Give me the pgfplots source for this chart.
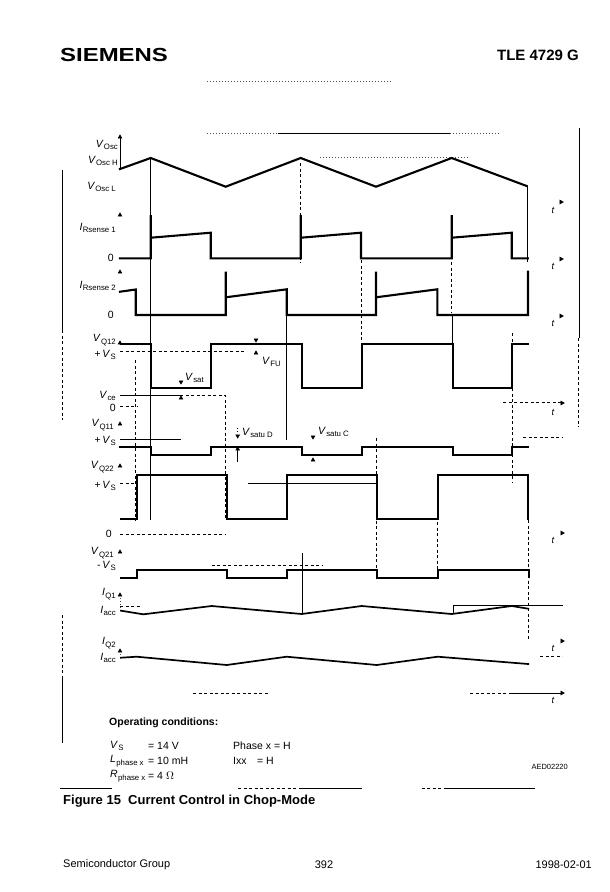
\documentclass[border=0pt]{standalone}
\usepackage{fontspec}
\setmainfont{Liberation Sans}
\usepackage{pgfplots}
\pgfplotsset{compat=1.18}
\usepackage{graphicx}
\newcommand{\sg}[2]{\textit{#1}\kern0.3pt\raisebox{-0.45ex}{\fontsize{7.8}{8}\selectfont #2}}
\begin{document}
\begin{tikzpicture}
\tikzset{wave/.style={line width=2.1pt, black, line join=miter, line cap=rect},
  thn/.style={line width=0.6pt, black},
  dsh/.style={line width=0.6pt, black, dash pattern=on 3pt off 2.5pt},
  dot/.style={line width=0.5pt, black!70, dash pattern=on 1pt off 2pt},
  lab/.style={anchor=east, font=\fontsize{10.5}{11}\selectfont, inner sep=0pt},
  ann/.style={anchor=west, font=\fontsize{10.5}{11}\selectfont, inner sep=0pt},
  tl/.style={font=\fontsize{9.5}{10}\selectfont\itshape, inner sep=0pt}}
\begin{axis}[scale only axis, width=610pt, height=892pt,
  xmin=0, xmax=610, ymin=0, ymax=892, y dir=reverse,
  hide axis, clip=false]
\path[fill=white] (axis cs:0,0) rectangle (axis cs:610,892);

% ---------- header ----------
\node[anchor=west, inner sep=0pt] at (axis cs:60,55) {\scalebox{1.33}[1.05]{\fontsize{18}{18}\selectfont\bfseries SIEMENS}};
\node[anchor=east, inner sep=0pt] at (axis cs:579,55) {\fontsize{15}{15}\selectfont\bfseries TLE 4729 G};
\addplot[dot] coordinates {(207,81) (391,81)};
\addplot[dot] coordinates {(207,133.6) (500,133.6)};
\addplot[thn] coordinates {(278,133.6) (450,133.6)};

% ---------- margins ----------
\addplot[thn] coordinates {(62,170) (62,330)};
\addplot[dsh] coordinates {(62,330) (62,420)};
\addplot[dsh] coordinates {(62,615) (62,677)};
\addplot[thn] coordinates {(62,677) (62,743)};
\addplot[thn] coordinates {(579.3,128) (579.3,338)};
\addplot[dsh] coordinates {(578,338) (578,427)};

% ---------- reference lines ----------
\addplot[thn] coordinates {(150.7,158) (150.7,520)};
\addplot[thn] coordinates {(527.5,186) (527.5,262)};
\addplot[thn] coordinates {(286.7,315) (286.7,440)};
\addplot[thn] coordinates {(452.7,315) (452.7,345)};
\addplot[thn] coordinates {(302.3,553) (302.3,614)};
\addplot[thn] coordinates {(120,395.7) (180,395.7)};
\addplot[dsh] coordinates {(180,395.7) (225.7,395.7) (225.7,520)};
\addplot[dsh] coordinates {(120,406.7) (137,406.7)};
\addplot[dsh] coordinates {(120,351.7) (246,351.7)};
\addplot[thn] coordinates {(120,439) (181,439)};
\addplot[dsh] coordinates {(523,437.7) (563,437.7)};
\addplot[dsh] coordinates {(120,483) (136,483)};
\addplot[thn] coordinates {(248,483) (377,483)};
\addplot[dsh] coordinates {(135.7,360) (135.7,520)};
\addplot[dsh] coordinates {(361.7,260) (361.7,363)};
\addplot[dsh] coordinates {(300.7,163) (300.7,263)};
\addplot[dsh] coordinates {(451.7,262) (451.7,312)};
\addplot[dsh] coordinates {(376.7,438) (376.7,570)};
\addplot[dsh] coordinates {(437.7,500) (437.7,570)};
\addplot[dsh] coordinates {(512.3,333) (512.3,483)};
\addplot[dsh] coordinates {(528.5,520) (528.5,640)};
\addplot[dot] coordinates {(320,157) (470,157)};
\addplot[dsh] coordinates {(120,534) (226,534)};
\addplot[dsh] coordinates {(211.7,565) (323,565)};
\addplot[thn] coordinates {(453,605) (563,605)};
\addplot[thn] coordinates {(453.3,605) (453.3,614)};
\addplot[dsh] coordinates {(120,606) (140,606)};
\addplot[dsh] coordinates {(540,656.7) (562,656.7)};
\addplot[dsh] coordinates {(193,693) (268,693)};
\addplot[dsh] coordinates {(470,693) (510,693)};
\addplot[thn] coordinates {(510,693) (562,693)};
\addplot[dsh] coordinates {(503,402.7) (562,402.7)};
\addplot[dot] coordinates {(120,595) (120,612)};
\addplot[dot] coordinates {(120,651) (120,660)};

% V_Osc axis
\addplot[thn] coordinates {(120,169) (120,138)};

% ---------- waveforms ----------
\addplot[wave] coordinates {(120,169) (150.7,158) (225.7,186.7) (300.7,158) (376,186.7) (451.7,158) (526.7,186)};
\addplot[wave] coordinates {(120,258.3) (150.7,258.3) (150.7,215) (150.7,237.7) (210.7,232.7) (210.7,258.3) (300.7,258.3) (300.7,215) (300.7,237.7) (361,232.7) (361,258.3) (451.7,258.3) (451.7,215) (451.7,237.7) (511.7,232.7) (511.7,258.3) (527.7,258.3)};
\addplot[wave] coordinates {(120,291.7) (135.7,289.5) (135.7,315) (225.7,315) (225.7,271.7) (225.7,297.3) (286.7,289.3) (286.7,315) (376,315) (376,271.7) (376,297.3) (437.3,289.3) (437.3,315) (528,315) (528,271.7)};
\addplot[wave] coordinates {(121,344) (150.7,344) (150.7,387.7) (211,387.7) (211,344) (301.7,344) (301.7,387.7) (361.7,387.7) (361.7,344) (452.7,344) (452.7,387.7) (512.3,387.7) (512.3,344) (527.7,344)};
\addplot[wave] coordinates {(120,446.7) (150.7,446.7) (150.7,455) (211,455) (211,446.7) (301.7,446.7) (301.7,455) (361.7,455) (361.7,446.7) (452.7,446.7) (452.7,455) (512.3,455) (512.3,446.7) (527.7,446.7)};
\addplot[wave] coordinates {(121,519.3) (136.7,519.3) (136.7,475) (226.7,475) (226.7,519.3) (286.7,519.3) (286.7,475) (376.7,475) (376.7,519.3) (437.7,519.3) (437.7,475) (528.3,475) (528.3,519.3)};
\addplot[wave] coordinates {(121,577.7) (136.7,577.7) (136.7,570) (226.7,570) (226.7,577.7) (286.7,577.7) (286.7,570) (376.7,570) (376.7,577.7) (437.7,577.7) (437.7,570) (529.3,570) (529.3,577)};
\addplot[wave, line width=1.7pt] coordinates {(121,610.7) (143.3,614.3) (211.7,606) (301.7,614) (361.7,606) (451.7,614) (511.7,606) (528.3,608.7)};
\addplot[wave, line width=1.7pt] coordinates {(121,657.7) (136.7,656.7) (226.7,665) (286.7,656.7) (376.7,665) (437.7,656.7) (528.3,664)};

% ---------- arrow heads ----------
\addplot[only marks, mark=triangle*, mark size=2.2pt] coordinates {(120,137) (120,215) (120,272) (120,343) (120,424) (120,466) (120,552) (120,595) (120,651) (181,398) (256,353) (313,460)};
\addplot[only marks, mark=triangle*, mark size=2.2pt, mark options={rotate=180}] coordinates {(181,382) (256,340) (313,437) (237.7,436)};
\addplot[only marks, mark=triangle*, mark size=2.4pt, mark options={rotate=-90}] coordinates {(561,202) (561,259) (561,316) (562,403) (562,533) (562,641) (562,693)};
\addplot[dot, black] coordinates {(237.7,428) (237.7,434)};
\addplot[thn] coordinates {(237.7,462) (237.7,450)};
\addplot[only marks, mark=triangle*, mark size=2.2pt] coordinates {(237.7,449)};

% ---------- t labels ----------
\foreach \yy in {210,266,323,412,540,648,700} {
  \edef\tmp{\noexpand\node[tl] at (axis cs:553,\yy) {t};}\tmp
}

% ---------- signal labels ----------
\node[lab] at (axis cs:118,145) {\sg{V}{Osc}};
\node[lab] at (axis cs:118,161) {\sg{V}{Osc H}};
\node[lab] at (axis cs:116,187) {\sg{V}{Osc L}};
\node[lab] at (axis cs:116,228) {\sg{I}{Rsense 1}};
\node[lab] at (axis cs:114,258) {0};
\node[lab] at (axis cs:116,286) {\sg{I}{Rsense 2}};
\node[lab] at (axis cs:114,315) {0};
\node[lab] at (axis cs:116,340) {\sg{V}{Q12}};
\node[lab] at (axis cs:116,355) {+\,\sg{V}{S}};
\node[lab] at (axis cs:116,396) {\sg{V}{ce}};
\node[lab] at (axis cs:116,408) {0};
\node[lab] at (axis cs:114,425) {\sg{V}{Q11}};
\node[lab] at (axis cs:116,441) {+\,\sg{V}{S}};
\node[lab] at (axis cs:114,467) {\sg{V}{Q22}};
\node[lab] at (axis cs:116,486) {+\,\sg{V}{S}};
\node[lab] at (axis cs:112,534) {0};
\node[lab] at (axis cs:114,553) {\sg{V}{Q21}};
\node[lab] at (axis cs:116,566) {-\,\sg{V}{S}};
\node[lab] at (axis cs:116,594) {\sg{I}{Q1}};
\node[lab] at (axis cs:116,611) {\sg{I}{acc}};
\node[lab] at (axis cs:116,643) {\sg{I}{Q2}};
\node[lab] at (axis cs:116,658) {\sg{I}{acc}};

\node[ann] at (axis cs:185,378) {\sg{V}{sat}};
\node[ann] at (axis cs:262,362) {\sg{V}{FU}};
\node[ann] at (axis cs:242,433) {\sg{V}{satu D}};
\node[ann] at (axis cs:318,432) {\sg{V}{satu C}};

% ---------- operating conditions ----------
\node[anchor=west, inner sep=0pt] at (axis cs:109,723) {\fontsize{10.5}{11}\selectfont\bfseries Operating conditions:};
\node[ann] at (axis cs:110,746) {\sg{V}{S}};
\node[ann] at (axis cs:148,746) {= 14 V};
\node[ann] at (axis cs:233,746) {Phase x = H};
\node[ann] at (axis cs:110,761) {\sg{L}{phase x}};
\node[ann] at (axis cs:148,761) {= 10 mH};
\node[ann] at (axis cs:233,761) {Ixx};
\node[ann] at (axis cs:257,761) {= H};
\node[ann] at (axis cs:110,776) {\sg{R}{phase x}};
\node[ann] at (axis cs:148,776) {= 4 $\Omega$};
\node[anchor=east, inner sep=0pt] at (axis cs:568,767) {\fontsize{7.5}{8}\selectfont AED02220};
\addplot[thn] coordinates {(60,788.3) (111.7,788.3)};
\addplot[dsh] coordinates {(238,788.3) (300,788.3)};
\addplot[thn] coordinates {(300,788.3) (361.7,788.3)};
\addplot[dsh] coordinates {(421.7,788.3) (445,788.3)};
\addplot[thn] coordinates {(445,788.3) (535,788.3)};

\node[anchor=west, inner sep=0pt] at (axis cs:63,801) {\fontsize{13}{14}\selectfont\bfseries Figure 15\ \ Current Control in Chop-Mode};

% ---------- footer ----------
\node[anchor=west, inner sep=0pt] at (axis cs:63,865) {\fontsize{11}{12}\selectfont Semiconductor Group};
\node[inner sep=0pt] at (axis cs:324,865) {\fontsize{11}{12}\selectfont 392};
\node[anchor=east, inner sep=0pt] at (axis cs:592,865) {\fontsize{11}{12}\selectfont 1998-02-01};
\end{axis}
\end{tikzpicture}
\end{document}
